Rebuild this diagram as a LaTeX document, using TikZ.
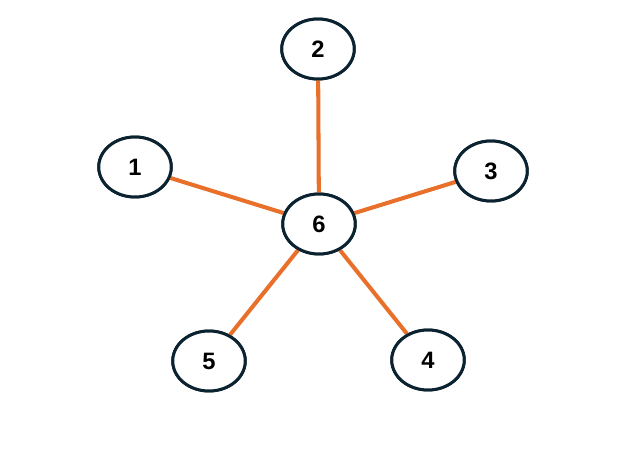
\documentclass[tikz,border=0pt]{standalone}
\usepackage{fontspec}
\setmainfont{Liberation Sans}
\usetikzlibrary{shapes.geometric}
\definecolor{ringcol}{HTML}{0B2230}
\definecolor{linkcol}{HTML}{E8702A}
\tikzset{
  vert/.style={ellipse,draw=ringcol,line width=1.7pt,fill=white,
    minimum width=1.45cm,minimum height=1.2cm,font=\fontsize{13.5}{16}\selectfont\bfseries},
  link/.style={draw=linkcol,line width=2.3pt}
}
\begin{document}
\begin{tikzpicture}[x=0.02cm,y=-0.02cm]
   %% Rahmen
   \useasboundingbox (0,0) rectangle (627,463);

   %% Knoten
   \node[vert] (n6) at (319,224) {6};
   \node[vert] (n1) at (135,167) {1};
   \node[vert] (n2) at (318,49) {2};
   \node[vert] (n3) at (491,171) {3};
   \node[vert] (n4) at (428,360) {4};
   \node[vert] (n5) at (209,361) {5};

   %% Kanten
   \begin{scope}[on background layer/.try]
   \foreach \k in {1,...,5}
     \draw[link] (n6) -- (n\k);
   \end{scope}
   \foreach \k in {1,...,6}
     \node[vert] at (n\k) {\k};
\end{tikzpicture}
\end{document}
